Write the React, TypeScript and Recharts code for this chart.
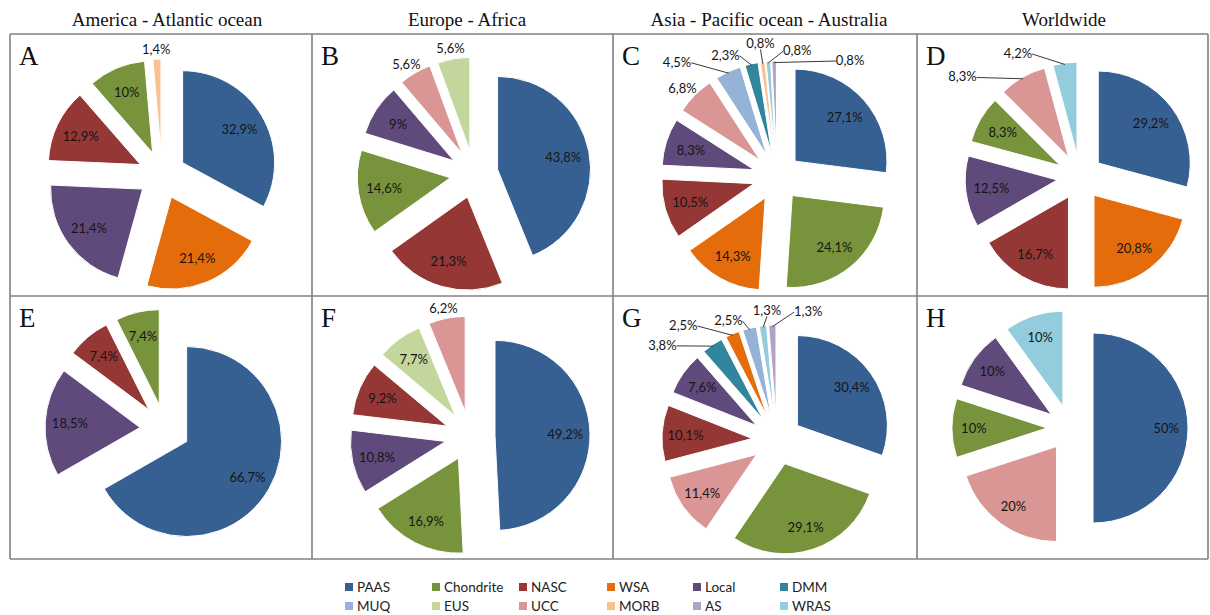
import React from 'react';
import { PieChart, Pie, Cell, Sector } from 'recharts';

// ---------- data ----------
const CATEGORIES = ['PAAS', 'Chondrite', 'NASC', 'WSA', 'Local', 'DMM', 'MUQ', 'EUS', 'UCC', 'MORB', 'AS', 'WRAS'];
const COLUMN_TITLES = ['America - Atlantic ocean', 'Europe - Africa', 'Asia - Pacific ocean - Australia', 'Worldwide'];
const PANEL_LETTERS = ['A', 'B', 'C', 'D', 'E', 'F', 'G', 'H'];

const A_NAMES = ['PAAS', 'WSA', 'Local', 'NASC', 'Chondrite', 'MORB'];
const A_VALUES = [32.9, 21.4, 21.4, 12.9, 10, 1.4];

const B_NAMES = ['PAAS', 'NASC', 'Chondrite', 'Local', 'UCC', 'EUS'];
const B_VALUES = [43.8, 21.3, 14.6, 9, 5.6, 5.6];

const C_NAMES = ['PAAS', 'Chondrite', 'WSA', 'NASC', 'Local', 'UCC', 'MUQ', 'DMM', 'MORB', 'WRAS', 'AS'];
const C_VALUES = [27.1, 24.1, 14.3, 10.5, 8.3, 6.8, 4.5, 2.3, 0.8, 0.8, 0.8];

const D_NAMES = ['PAAS', 'WSA', 'NASC', 'Local', 'Chondrite', 'UCC', 'WRAS'];
const D_VALUES = [29.2, 20.8, 16.7, 12.5, 8.3, 8.3, 4.2];

const E_NAMES = ['PAAS', 'Local', 'NASC', 'Chondrite'];
const E_VALUES = [66.7, 18.5, 7.4, 7.4];

const F_NAMES = ['PAAS', 'Chondrite', 'Local', 'NASC', 'EUS', 'UCC'];
const F_VALUES = [49.2, 16.9, 10.8, 9.2, 7.7, 6.2];

const G_NAMES = ['PAAS', 'Chondrite', 'UCC', 'NASC', 'Local', 'DMM', 'WSA', 'MUQ', 'WRAS', 'AS'];
const G_VALUES = [30.4, 29.1, 11.4, 10.1, 7.6, 3.8, 2.5, 2.5, 1.3, 1.3];

const H_NAMES = ['PAAS', 'UCC', 'Chondrite', 'Local', 'WRAS'];
const H_VALUES = [50, 20, 10, 10, 10];

const PANELS = [
  [A_NAMES, A_VALUES], [B_NAMES, B_VALUES], [C_NAMES, C_VALUES], [D_NAMES, D_VALUES],
  [E_NAMES, E_VALUES], [F_NAMES, F_VALUES], [G_NAMES, G_VALUES], [H_NAMES, H_VALUES],
] as [string[], number[]][];

// ---------- styles / layout ----------
const COLORS: Record<string, string> = {
  PAAS: '#376092', Chondrite: '#77933C', NASC: '#953735', WSA: '#E46C0A', Local: '#604A7B', DMM: '#31859C',
  MUQ: '#95B3D7', EUS: '#C3D69B', UCC: '#D99694', MORB: '#FAC090', AS: '#B3A2C7', WRAS: '#93CDDD',
};

const GRID_X = [10, 312, 613, 917, 1208];
const GRID_Y = [34, 296, 559];
const TITLE_X = [167, 467, 769, 1064];

type LabelSpec = 'out' | [number, number];
type PanelLayout = { cx: number; cy: number; r: number; d: number; k: number; labels: Record<number, LabelSpec> };

const LAYOUT: PanelLayout[] = [
  { cx: 162, cy: 175, r: 92, d: 24, k: 0.72, labels: { 5: 'out' } },
  { cx: 474, cy: 174, r: 93, d: 24, k: 0.72, labels: { 4: 'out', 5: 'out' } },
  { cx: 777, cy: 177, r: 92, d: 24, k: 0.72, labels: { 5: 'out', 6: [-51, -10], 7: [-26, -9], 8: [-2, -19], 9: [29, -11], 10: [76, -1] } },
  { cx: 1080, cy: 177, r: 92, d: 23, k: 0.72, labels: { 5: [-60, -1], 6: [-47, -10] } },
  { cx: 165, cy: 429, r: 95, d: 25, k: 0.74, labels: {} },
  { cx: 470, cy: 436, r: 95, d: 25, k: 0.74, labels: { 5: 'out' } },
  { cx: 777, cy: 440, r: 90, d: 25, k: 0.74, labels: { 5: [-50, 0], 6: [-49, -9], 7: [-21, -8], 8: [4, -16], 9: [36, -14] } },
  { cx: 1070, cy: 428, r: 95, d: 23, k: 0.77, labels: {} },
];

const LABEL_FONT = 'Lato, "Open Sans", sans-serif';
const fmt = (v: number) => String(v).replace('.', ',') + '%';

const makeShape = (d: number) => (props: any) => {
  const rad = (-props.midAngle * Math.PI) / 180;
  return (
    <Sector
      {...props}
      cx={props.cx + d * Math.cos(rad)}
      cy={props.cy + d * Math.sin(rad)}
    />
  );
};

const makeLabel = (cfg: PanelLayout) => (p: any) => {
  const { cx, cy, midAngle, index, value } = p;
  const rad = (-midAngle * Math.PI) / 180;
  const ux = Math.cos(rad);
  const uy = Math.sin(rad);
  const text = fmt(value);
  const w = text.length * 6.6;
  const h = 13;
  const ox = cx + cfg.d * ux;
  const oy = cy + cfg.d * uy;
  const spec = cfg.labels[index];
  const common = {
    fontFamily: LABEL_FONT,
    fontSize: 13,
    fill: '#151515',
    textAnchor: 'middle' as const,
    dominantBaseline: 'central' as const,
  };
  if (!spec) {
    return (
      <text key={`l${index}`} x={ox + cfg.k * cfg.r * ux} y={oy + cfg.k * cfg.r * uy} {...common}>
        {text}
      </text>
    );
  }
  const tipX = ox + cfg.r * ux;
  const tipY = oy + cfg.r * uy;
  if (spec === 'out') {
    const ax = tipX + 4 * ux + (ux * w) / 2;
    const ay = tipY + 4 * uy + (uy * h) / 2;
    return (
      <text key={`l${index}`} x={ax} y={ay} {...common}>
        {text}
      </text>
    );
  }
  const lx = tipX + spec[0];
  const ly = tipY + spec[1];
  let sx = lx;
  let sy = ly + h / 2;
  if (spec[0] < -8) {
    sx = lx + w / 2 + 1;
    sy = ly + 1;
  } else if (spec[0] > 8) {
    sx = lx - w / 2 - 1;
    sy = ly + 1;
  }
  return (
    <g key={`l${index}`}>
      <line x1={sx} y1={sy} x2={tipX - 1.5 * ux} y2={tipY - 1.5 * uy} stroke="#3a3a3a" strokeWidth={1} />
      <text x={lx} y={ly} {...common}>
        {text}
      </text>
    </g>
  );
};

const Frame = () => (
  <svg width={1210} height={615} style={{ position: 'absolute', left: 0, top: 0, pointerEvents: 'none' }}>
    {GRID_X.map((x, i) => (
      <line key={`vx${i}`} x1={x} y1={GRID_Y[0]} x2={x} y2={GRID_Y[2]} stroke="#808080" strokeWidth={1.6} />
    ))}
    {GRID_Y.map((y, i) => (
      <line key={`hy${i}`} x1={GRID_X[0]} y1={y} x2={GRID_X[4]} y2={y} stroke="#808080" strokeWidth={1.6} />
    ))}
    {COLUMN_TITLES.map((t, i) => (
      <text
        key={`t${i}`}
        x={TITLE_X[i]}
        y={26}
        textAnchor="middle"
        fontFamily='"Liberation Serif", "Times New Roman", serif'
        fontSize={19}
        fill="#111"
      >
        {t}
      </text>
    ))}
    {PANEL_LETTERS.map((l, i) => (
      <text
        key={`p${i}`}
        x={GRID_X[i % 4] + 9}
        y={GRID_Y[Math.floor(i / 4)] + 31}
        fontFamily='"Liberation Serif", "Times New Roman", serif'
        fontSize={27}
        fill="#111"
      >
        {l}
      </text>
    ))}
  </svg>
);

const LEGEND_COLS = [345, 432, 519, 607, 693, 780];

const LegendBox = () => (
  <div style={{ position: 'absolute', left: 0, top: 0 }}>
    {CATEGORIES.map((c, i) => {
      const col = i % 6;
      const row = Math.floor(i / 6);
      return (
        <div
          key={c}
          style={{
            position: 'absolute',
            left: LEGEND_COLS[col],
            top: 579 + row * 18.5,
            height: 16,
            display: 'flex',
            alignItems: 'center',
            whiteSpace: 'nowrap',
            fontFamily: LABEL_FONT,
            fontSize: 13.5,
            color: '#222',
          }}
        >
          <span style={{ width: 8, height: 8, background: COLORS[c], marginRight: 4, display: 'inline-block' }} />
          {c}
        </div>
      );
    })}
  </div>
);

export default function App() {
  return (
    <div style={{ position: 'absolute', left: 0, top: 0, width: 1210, height: 615, background: '#fff', overflow: 'hidden' }}>
      <PieChart width={1210} height={615} margin={{ top: 0, right: 0, bottom: 0, left: 0 }}>
        {PANELS.map(([names, values], pi) => {
          const cfg = LAYOUT[pi];
          const data = names.map((n, i) => ({ name: n, value: values[i] }));
          const shape = makeShape(cfg.d);
          return (
            <Pie
              key={`pie${pi}`}
              data={data}
              dataKey="value"
              nameKey="name"
              cx={cfg.cx}
              cy={cfg.cy}
              outerRadius={cfg.r}
              innerRadius={0}
              startAngle={90}
              endAngle={-270}
              stroke="#ffffff"
              strokeWidth={1}
              isAnimationActive={false}
              labelLine={false}
              label={makeLabel(cfg)}
              shape={shape}
              inactiveShape={shape}
              activeShape={shape}
            >
              {data.map((e, i) => (
                <Cell key={`c${i}`} fill={COLORS[e.name]} />
              ))}
            </Pie>
          );
        })}
      </PieChart>
      <Frame />
      <LegendBox />
    </div>
  );
}
